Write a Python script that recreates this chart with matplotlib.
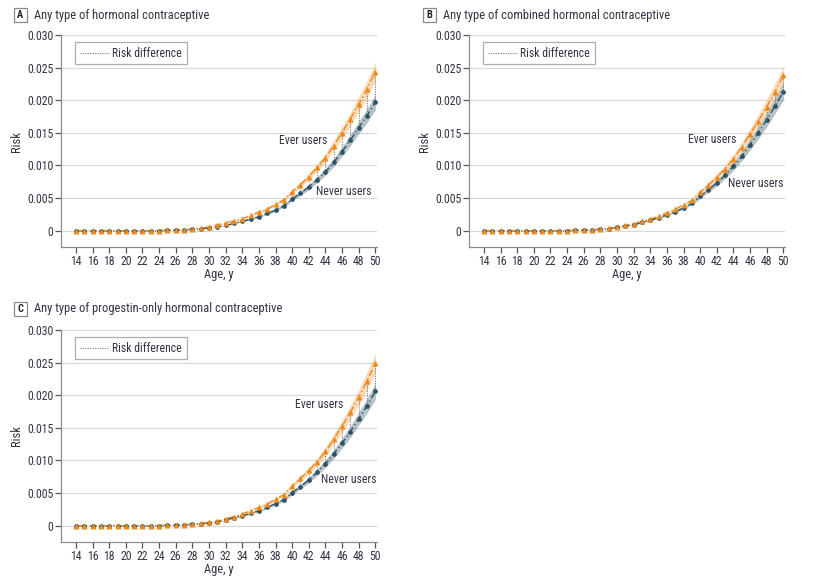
import numpy as np
import matplotlib
matplotlib.use("Agg")
import matplotlib.pyplot as plt
from matplotlib.lines import Line2D
from matplotlib.patches import Rectangle
from matplotlib import font_manager

# pick a narrow face if one is installed
names = {(f.name, str(f.stretch)) for f in font_manager.fontManager.ttflist}
fam_names = {n for n, s in names}
narrow = None
for cand in ["Liberation Sans Narrow", "Roboto Condensed", "Open Sans Condensed", "Noto Sans Condensed"]:
    if cand in fam_names:
        narrow = cand
        break
if narrow is None:
    cond = [n for n, s in names if s in ("condensed", "semi-condensed", "75", "87")]
    if "DejaVu Sans" in cond:
        narrow = "DejaVu Sans"
        plt.rcParams['font.stretch'] = 'condensed'
    elif cond:
        narrow = cond[0]
        plt.rcParams['font.stretch'] = 'condensed'
    else:
        narrow = "Roboto"
plt.rcParams['font.family'] = [narrow, 'DejaVu Sans']

ages = list(range(14, 51))

# risk values, ages 14-50
ever_A = [0, 0, 0, 0, 0, 0, 0, 0, 0, 0, 0.00002, 0.00005, 0.0001, 0.00016, 0.00025, 0.00038,
          0.0006, 0.0009, 0.0012, 0.0015, 0.0018, 0.00235, 0.00286, 0.0033, 0.00403, 0.00474,
          0.00597, 0.00704, 0.0083, 0.0097, 0.01122, 0.01306, 0.01505, 0.01714, 0.0194, 0.0217, 0.0244]
never_A = [0, 0, 0, 0, 0, 0, 0, 0, 0, 0, 0.00002, 0.00004, 0.00008, 0.00013, 0.0002, 0.0003,
           0.0004, 0.0006, 0.0008, 0.00112, 0.00143, 0.00179, 0.00214, 0.00265, 0.00316, 0.00383,
           0.00485, 0.00577, 0.00668, 0.0078, 0.00903, 0.01046, 0.01214, 0.01388, 0.0158, 0.01765, 0.0197]

ever_B = [0, 0, 0, 0, 0, 0, 0, 0, 0, 0, 0.00002, 0.00005, 0.0001, 0.00016, 0.00025, 0.00038,
          0.00056, 0.0008, 0.0011, 0.00143, 0.0018, 0.0022, 0.00276, 0.00327, 0.004, 0.00464,
          0.0059, 0.0070, 0.0082, 0.0095, 0.0110, 0.01286, 0.0148, 0.01684, 0.0190, 0.0213, 0.0238]
never_B = [0, 0, 0, 0, 0, 0, 0, 0, 0, 0, 0.00002, 0.00004, 0.00008, 0.00013, 0.0002, 0.00032,
           0.0005, 0.0007, 0.0009, 0.00128, 0.0016, 0.002, 0.0024, 0.0029, 0.0035, 0.0042,
           0.00526, 0.00628, 0.0073, 0.0085, 0.00985, 0.0114, 0.0132, 0.0150, 0.0170, 0.0191, 0.0213]

ever_C = [0, 0, 0, 0, 0, 0, 0, 0, 0, 0, 0.00002, 0.00005, 0.0001, 0.00016, 0.00025, 0.00038,
          0.0005, 0.0007, 0.0011, 0.0014, 0.0018, 0.0023, 0.0028, 0.0033, 0.0041, 0.00474,
          0.0061, 0.00724, 0.00847, 0.0098, 0.01138, 0.01327, 0.01526, 0.0174, 0.0197, 0.0222, 0.0249]
never_C = [0, 0, 0, 0, 0, 0, 0, 0, 0, 0, 0.00002, 0.00004, 0.00008, 0.00013, 0.0002, 0.0003,
           0.0004, 0.0006, 0.0009, 0.0012, 0.0015, 0.0019, 0.0023, 0.0028, 0.0034, 0.004,
           0.00505, 0.006, 0.0070, 0.0082, 0.0095, 0.011, 0.01265, 0.0144, 0.0164, 0.0184, 0.0206]

ci_rel = 0.06  # approx. relative half-width of the shaded bands

# label positions: (risk, age)
panels = [
    ("A", "Any type of hormonal contraceptive", ever_A, never_A,
     (0.0138, 44.2), (0.0060, 46.2)),
    ("B", "Any type of combined hormonal contraceptive", ever_B, never_B,
     (0.0140, 44.3), (0.0073, 46.7)),
    ("C", "Any type of progestin-only hormonal contraceptive", ever_C, never_C,
     (0.0186, 46.2), (0.0071, 46.8)),
]

orange = "#ee8a1d"
teal = "#2c5465"
txt = "#333344"
grid_c = "#d9d9d9"

fig = plt.figure(figsize=(8.17, 5.84), dpi=100)
W, H = 817, 584
rects = [(61, 35, 377, 247), (469, 35, 785, 247), (61, 330, 377, 542)]
title_pos = [(14, 15), (423, 15), (14, 309)]

for (lab, title, ever, never, ev_pos, nv_pos), (x0, y0, x1, y1), (tx, ty) in zip(panels, rects, title_pos):
    ax = fig.add_axes([x0 / W, 1 - y1 / H, (x1 - x0) / W, (y1 - y0) / H])
    e = np.array(ever)
    n = np.array(never)
    ax.set_xlim(12.2, 50.2)
    ax.set_ylim(-0.0025, 0.030)
    for yv in np.arange(0, 0.0301, 0.005):
        ax.axhline(yv, color=grid_c, lw=0.9, zorder=0)
    ax.fill_between(ages, e * (1 - ci_rel), e * (1 + ci_rel), color=orange, alpha=0.3, lw=0, zorder=1)
    ax.fill_between(ages, n * (1 - ci_rel), n * (1 + ci_rel), color=teal, alpha=0.35, lw=0, zorder=1)
    ax.vlines(ages, n, e, color="#777777", lw=0.8, linestyles=(0, (1, 1.2)), zorder=2)
    ax.plot(ages, n, color=teal, lw=1.0, ls=(0, (5, 2, 1, 2)), zorder=3)
    ax.plot(ages, e, color=orange, lw=1.0, ls=(0, (5, 2, 1, 2)), zorder=3)
    ax.plot(ages, n, 'o', color=teal, ms=3.4, mec='none', zorder=4)
    ax.plot(ages, e, '^', color=orange, ms=3.8, mec='none', zorder=5)

    ax.text(ev_pos[1], ev_pos[0], "Ever users", ha="right", va="center", fontsize=8.5, color=txt)
    ax.text(nv_pos[1], nv_pos[0], "Never users", ha="center", va="center", fontsize=8.5, color=txt)

    ax.set_xticks(range(14, 51, 2))
    ax.set_yticks(np.arange(0, 0.0301, 0.005))
    ax.set_yticklabels(["0", "0.005", "0.010", "0.015", "0.020", "0.025", "0.030"])
    for s in ["top", "right"]:
        ax.spines[s].set_visible(False)
    for s in ["left", "bottom"]:
        ax.spines[s].set_color("#8a8a8a")
        ax.spines[s].set_linewidth(0.9)
    ax.tick_params(direction="out", length=4, width=0.9, color="#555555", labelsize=8.5,
                   labelcolor=txt, pad=1.5)
    ax.set_xlabel("Age, y", fontsize=9, color=txt, labelpad=0.5)
    ax.set_ylabel("Risk", fontsize=9, color=txt, labelpad=3)

    leg_h = Line2D([], [], color="#777777", lw=0.8, ls=(0, (1, 1.2)))
    leg = ax.legend([leg_h], ["Risk difference"], loc="upper left", bbox_to_anchor=(0.044, 0.967),
                    fontsize=8.5, frameon=True, fancybox=False, handlelength=2.5, borderpad=0.4,
                    handletextpad=0.25, borderaxespad=0, labelcolor=txt)
    leg.get_frame().set_edgecolor("#9a9a9a")
    leg.get_frame().set_linewidth(0.9)

    # boxed panel letter
    fig.patches.append(Rectangle((tx / W, 1 - (ty + 7) / H), 13 / W, 14 / H, transform=fig.transFigure,
                                 fc="white", ec="#8a8a8a", lw=0.9))
    fig.text((tx + 6.5) / W, 1 - ty / H, lab, ha="center", va="center", fontsize=7.5,
             fontweight="bold", color="#222222")
    fig.text((tx + 20) / W, 1 - ty / H, title, ha="left", va="center", fontsize=9, color=txt)

fig.savefig("out.png", dpi=100, facecolor="white")
